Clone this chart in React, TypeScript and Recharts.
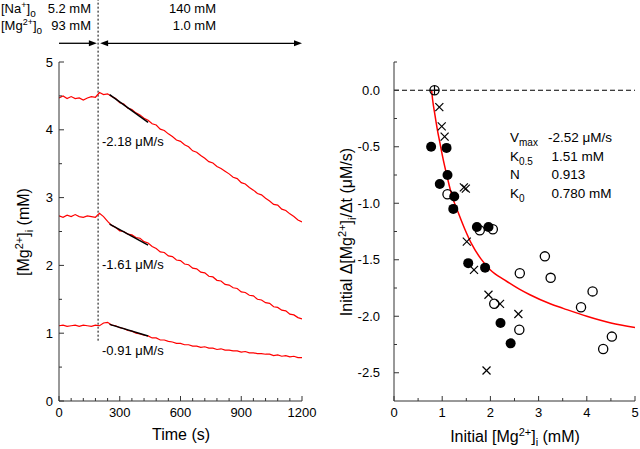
import React from 'react';
import { ComposedChart, Line, Scatter, XAxis, YAxis, ReferenceLine } from 'recharts';

const FONT = '"Liberation Sans", Arial, Helvetica, sans-serif';
const AX = '#333333';
const RED = '#ff0000';

// ---------- Left panel data: time course of [Mg2+]i ----------
const TIME = [0, 20, 40, 60, 80, 100, 120, 140, 160, 180, 200, 220, 240, 260, 280, 300, 320, 340, 360, 380, 400, 420, 440, 460, 480, 500, 520, 540, 560, 580, 600, 620, 640, 660, 680, 700, 720, 740, 760, 780, 800, 820, 840, 860, 880, 900, 920, 940, 960, 980, 1000, 1020, 1040, 1060, 1080, 1100, 1120, 1140, 1160, 1180, 1200];

const TRACE_HIGH = [4.47, 4.50, 4.46, 4.49, 4.46, 4.47, 4.44, 4.47, 4.49, 4.48, 4.55, 4.52, 4.53, 4.49, 4.46, 4.40, 4.38, 4.32, 4.30, 4.25, 4.22, 4.17, 4.14, 4.09, 4.07, 4.01, 3.99, 3.94, 3.90, 3.85, 3.83, 3.78, 3.75, 3.69, 3.67, 3.62, 3.58, 3.53, 3.51, 3.46, 3.43, 3.39, 3.35, 3.30, 3.28, 3.22, 3.20, 3.15, 3.11, 3.06, 3.04, 2.99, 2.95, 2.90, 2.89, 2.83, 2.81, 2.76, 2.72, 2.67, 2.64];

const TRACE_MID = [2.73, 2.71, 2.74, 2.72, 2.75, 2.72, 2.71, 2.73, 2.72, 2.71, 2.77, 2.72, 2.65, 2.59, 2.56, 2.51, 2.50, 2.46, 2.45, 2.41, 2.40, 2.35, 2.33, 2.28, 2.25, 2.20, 2.19, 2.14, 2.13, 2.08, 2.07, 2.02, 2.01, 1.96, 1.95, 1.90, 1.89, 1.84, 1.83, 1.78, 1.77, 1.72, 1.71, 1.67, 1.66, 1.61, 1.60, 1.56, 1.55, 1.50, 1.49, 1.45, 1.44, 1.39, 1.38, 1.34, 1.33, 1.28, 1.27, 1.23, 1.21];

const TRACE_LOW = [1.11, 1.12, 1.10, 1.11, 1.12, 1.10, 1.12, 1.11, 1.10, 1.12, 1.11, 1.15, 1.16, 1.12, 1.11, 1.08, 1.07, 1.04, 1.03, 1.00, 0.99, 0.97, 0.96, 0.93, 0.93, 0.90, 0.90, 0.88, 0.87, 0.85, 0.85, 0.83, 0.83, 0.81, 0.81, 0.79, 0.80, 0.78, 0.78, 0.76, 0.77, 0.75, 0.75, 0.74, 0.74, 0.72, 0.73, 0.71, 0.71, 0.70, 0.70, 0.69, 0.69, 0.67, 0.68, 0.66, 0.67, 0.65, 0.66, 0.64, 0.64];

const FIT_HIGH = [{ t: 250, v: 4.52 }, { t: 440, v: 4.11 }];
const FIT_MID = [{ t: 250, v: 2.61 }, { t: 440, v: 2.30 }];
const FIT_LOW = [{ t: 250, v: 1.13 }, { t: 440, v: 0.96 }];

const LEFT_X_TICKS = [0, 60, 120, 180, 240, 300, 360, 420, 480, 540, 600, 660, 720, 780, 840, 900, 960, 1020, 1080, 1140, 1200];
const LEFT_Y_TICKS = [0, 0.5, 1, 1.5, 2, 2.5, 3, 3.5, 4, 4.5, 5];

const SWITCH_TIME = 193;
const ARROW_LEVEL = 5.276;

// ---------- Right panel data: initial rate vs initial [Mg2+]i ----------
const FILLED = [
  { x: 0.77, y: -0.50 }, { x: 1.09, y: -0.51 }, { x: 1.11, y: -0.75 }, { x: 0.95, y: -0.83 },
  { x: 1.25, y: -0.94 }, { x: 1.23, y: -1.05 }, { x: 1.72, y: -1.21 }, { x: 1.96, y: -1.21 },
  { x: 1.54, y: -1.53 }, { x: 1.89, y: -1.57 }, { x: 2.21, y: -2.06 }, { x: 2.42, y: -2.24 },
];
const OPEN = [
  { x: 0.84, y: 0.0 }, { x: 1.11, y: -0.92 }, { x: 1.78, y: -1.24 }, { x: 2.05, y: -1.23 },
  { x: 2.08, y: -1.89 }, { x: 2.60, y: -2.12 }, { x: 2.61, y: -1.62 }, { x: 3.13, y: -1.47 },
  { x: 3.25, y: -1.66 }, { x: 3.88, y: -1.92 }, { x: 4.12, y: -1.78 }, { x: 4.34, y: -2.29 },
  { x: 4.52, y: -2.18 },
];
const CROSSES = [
  { x: 0.94, y: -0.15 }, { x: 0.99, y: -0.32 }, { x: 1.05, y: -0.41 }, { x: 1.45, y: -0.86 },
  { x: 1.49, y: -0.87 }, { x: 1.51, y: -1.34 }, { x: 1.66, y: -1.59 }, { x: 1.96, y: -1.81 },
  { x: 2.20, y: -1.89 }, { x: 2.58, y: -1.98 }, { x: 1.92, y: -2.48 },
];
const PLUS = [{ x: 0.84, y: 0.0 }];

const FIT_CURVE = [
  { x: 0.78, y: 0 }, { x: 0.80, y: -0.08 }, { x: 0.85, y: -0.22 }, { x: 0.90, y: -0.35 },
  { x: 0.95, y: -0.46 }, { x: 1.00, y: -0.57 }, { x: 1.05, y: -0.67 }, { x: 1.10, y: -0.76 },
  { x: 1.15, y: -0.85 }, { x: 1.20, y: -0.93 }, { x: 1.33, y: -1.08 }, { x: 1.47, y: -1.23 },
  { x: 1.61, y: -1.36 }, { x: 1.80, y: -1.49 }, { x: 2.00, y: -1.59 }, { x: 2.30, y: -1.68 },
  { x: 2.60, y: -1.76 }, { x: 2.82, y: -1.81 }, { x: 3.24, y: -1.89 }, { x: 3.51, y: -1.93 },
  { x: 4.00, y: -2.00 }, { x: 4.50, y: -2.06 }, { x: 5.00, y: -2.10 },
];

const RIGHT_X_TICKS = [0, 0.5, 1, 1.5, 2, 2.5, 3, 3.5, 4, 4.5, 5];
const RIGHT_Y_TICKS = [-2.5, -2.25, -2, -1.75, -1.5, -1.25, -1, -0.75, -0.5, -0.25, 0, 0.25];

// ---------- helpers ----------
const traceHigh = TIME.map((t, i) => ({ t, v: TRACE_HIGH[i] }));
const traceMid = TIME.map((t, i) => ({ t, v: TRACE_MID[i] }));
const traceLow = TIME.map((t, i) => ({ t, v: TRACE_LOW[i] }));

const near = (a: number, b: number) => Math.abs(a - b) < 1e-6;

const makeXTick = (isMajor: (v: number) => boolean, fmt: (v: number) => string) => (p: any) => {
  const { x, y, payload } = p;
  const v = payload.value;
  const major = isMajor(v);
  return (
    <g>
      <line x1={x} x2={x} y1={y} y2={y - (major ? 5 : 3)} stroke={AX} strokeWidth={1} />
      {major && (
        <text x={x} y={y + 16} textAnchor="middle" fontSize={13} fontFamily={FONT} fill="#000">
          {fmt(v)}
        </text>
      )}
    </g>
  );
};

const makeYTick = (isMajor: (v: number) => boolean, fmt: (v: number) => string, gap: number) => (p: any) => {
  const { x, y, payload } = p;
  const v = payload.value;
  const major = isMajor(v);
  return (
    <g>
      <line x1={x} x2={x + (major ? 5 : 3)} y1={y} y2={y} stroke={AX} strokeWidth={1} />
      {major && (
        <text x={x - gap} y={y + 4.6} textAnchor="end" fontSize={13} fontFamily={FONT} fill="#000">
          {fmt(v)}
        </text>
      )}
    </g>
  );
};

const arrowShape = (both: boolean) => (p: any) => {
  const { x1, y1, x2, y2 } = p;
  const L = 8;
  const W = 3;
  return (
    <g>
      <line x1={both ? x1 + L - 1 : x1} y1={y1} x2={x2 - L + 1} y2={y2} stroke="#000" strokeWidth={1.3} />
      <polygon points={`${x2},${y2} ${x2 - L},${y2 - W} ${x2 - L},${y2 + W}`} fill="#000" />
      {both && <polygon points={`${x1},${y1} ${x1 + L},${y1 - W} ${x1 + L},${y1 + W}`} fill="#000" />}
    </g>
  );
};

const filledDot = (p: any) => <circle cx={p.cx} cy={p.cy} r={5} fill="#000" />;
const openDot = (p: any) => <circle cx={p.cx} cy={p.cy} r={4.6} fill="none" stroke="#000" strokeWidth={1.3} />;
const crossDot = (p: any) => (
  <g stroke="#000" strokeWidth={1.2}>
    <line x1={p.cx - 4} y1={p.cy - 4} x2={p.cx + 4} y2={p.cy + 4} />
    <line x1={p.cx - 4} y1={p.cy + 4} x2={p.cx + 4} y2={p.cy - 4} />
  </g>
);
const plusDot = (p: any) => (
  <g stroke="#000" strokeWidth={1.2}>
    <line x1={p.cx - 4.6} y1={p.cy} x2={p.cx + 4.6} y2={p.cy} />
    <line x1={p.cx} y1={p.cy - 4.6} x2={p.cx} y2={p.cy + 4.6} />
  </g>
);

function LeftChart() {
  return (
    <ComposedChart width={320} height={449} margin={{ top: 62, left: 58, right: 18, bottom: 47 }}>
      <XAxis
        type="number"
        dataKey="t"
        domain={[0, 1200]}
        ticks={LEFT_X_TICKS}
        interval={0}
        height={1}
        tickSize={0}
        tickMargin={0}
        tickLine={false}
        axisLine={{ stroke: AX }}
        allowDataOverflow
        tick={makeXTick((v) => v % 300 === 0, (v) => String(v))}
      />
      <YAxis
        type="number"
        dataKey="v"
        domain={[0, 5]}
        ticks={LEFT_Y_TICKS}
        interval={0}
        width={1}
        tickSize={0}
        tickMargin={0}
        tickLine={false}
        axisLine={{ stroke: AX }}
        allowDataOverflow
        tick={makeYTick((v) => near(v, Math.round(v)), (v) => String(v), 6)}
      />
      <ReferenceLine
        segment={[{ x: SWITCH_TIME, y: 0.89 }, { x: SWITCH_TIME, y: 5.93 }]}
        ifOverflow="visible"
        stroke="#000"
        strokeWidth={1}
        strokeDasharray="2 2"
      />
      <ReferenceLine
        segment={[{ x: 0, y: ARROW_LEVEL }, { x: 187, y: ARROW_LEVEL }]}
        ifOverflow="visible"
        shape={arrowShape(false)}
      />
      <ReferenceLine
        segment={[{ x: 203, y: ARROW_LEVEL }, { x: 1200, y: ARROW_LEVEL }]}
        ifOverflow="visible"
        shape={arrowShape(true)}
      />
      <Line data={traceHigh} dataKey="v" type="linear" stroke={RED} strokeWidth={1.2} dot={false} isAnimationActive={false} />
      <Line data={traceMid} dataKey="v" type="linear" stroke={RED} strokeWidth={1.2} dot={false} isAnimationActive={false} />
      <Line data={traceLow} dataKey="v" type="linear" stroke={RED} strokeWidth={1.2} dot={false} isAnimationActive={false} />
      <Line data={FIT_HIGH} dataKey="v" type="linear" stroke="#000" strokeWidth={1.5} dot={false} isAnimationActive={false} />
      <Line data={FIT_MID} dataKey="v" type="linear" stroke="#000" strokeWidth={1.5} dot={false} isAnimationActive={false} />
      <Line data={FIT_LOW} dataKey="v" type="linear" stroke="#000" strokeWidth={1.5} dot={false} isAnimationActive={false} />
    </ComposedChart>
  );
}

function RightChart() {
  return (
    <ComposedChart width={320} height={449} margin={{ top: 62, left: 73, right: 5, bottom: 47 }}>
      <XAxis
        type="number"
        dataKey="x"
        domain={[0, 5]}
        ticks={RIGHT_X_TICKS}
        interval={0}
        height={1}
        tickSize={0}
        tickMargin={0}
        tickLine={false}
        axisLine={{ stroke: AX }}
        allowDataOverflow
        tick={makeXTick((v) => near(v, Math.round(v)), (v) => String(v))}
      />
      <YAxis
        type="number"
        dataKey="y"
        domain={[-2.75, 0.25]}
        ticks={RIGHT_Y_TICKS}
        interval={0}
        width={1}
        tickSize={0}
        tickMargin={0}
        tickLine={false}
        axisLine={{ stroke: AX }}
        allowDataOverflow
        tick={makeYTick((v) => near(v * 2, Math.round(v * 2)), (v) => v.toFixed(1), 14)}
      />
      <ReferenceLine
        segment={[{ x: 0, y: 0 }, { x: 5, y: 0 }]}
        stroke="#000"
        strokeWidth={1}
        strokeDasharray="5 3"
      />
      <Line data={FIT_CURVE} dataKey="y" type="monotone" stroke={RED} strokeWidth={1.5} dot={false} isAnimationActive={false} />
      <Scatter data={OPEN} shape={openDot} isAnimationActive={false} />
      <Scatter data={CROSSES} shape={crossDot} isAnimationActive={false} />
      <Scatter data={PLUS} shape={plusDot} isAnimationActive={false} />
      <Scatter data={FILLED} shape={filledDot} isAnimationActive={false} />
    </ComposedChart>
  );
}

function Overlay() {
  const t = { fontFamily: FONT, fill: '#000' } as const;
  return (
    <svg width={640} height={449} style={{ position: 'absolute', left: 0, top: 0, pointerEvents: 'none' }}>
      {/* top annotations */}
      <text x={1} y={13} fontSize={13} {...t}>
        [Na<tspan dy={-5} fontSize={9}>+</tspan><tspan dy={5}>]</tspan><tspan dy={4} fontSize={10}>o</tspan>
      </text>
      <text x={91} y={13} fontSize={13} textAnchor="end" {...t}>5.2 mM</text>
      <text x={1} y={30} fontSize={13} {...t}>
        [Mg<tspan dy={-5} fontSize={9}>2+</tspan><tspan dy={5}>]</tspan><tspan dy={4} fontSize={10}>o</tspan>
      </text>
      <text x={91} y={30} fontSize={13} textAnchor="end" {...t}>93 mM</text>
      <text x={216} y={13} fontSize={13} textAnchor="end" {...t}>140 mM</text>
      <text x={216} y={30} fontSize={13} textAnchor="end" {...t}>1.0 mM</text>

      {/* slope labels */}
      <text x={102} y={146} fontSize={13} {...t}>-2.18 μM/s</text>
      <text x={102} y={269} fontSize={13} {...t}>-1.61 μM/s</text>
      <text x={102} y={355} fontSize={13} {...t}>-0.91 μM/s</text>

      {/* axis titles, left */}
      <text x={181} y={440} fontSize={16} textAnchor="middle" {...t}>Time (s)</text>
      <text transform="translate(29,232) rotate(-90)" fontSize={16} textAnchor="middle" {...t}>
        [Mg<tspan dy={-6} fontSize={11}>2+</tspan><tspan dy={6}>]</tspan><tspan dy={4} fontSize={11}>i</tspan><tspan dy={-4}> (mM)</tspan>
      </text>

      {/* axis titles, right */}
      <text x={515} y={442} fontSize={16} textAnchor="middle" {...t}>
        Initial [Mg<tspan dy={-6} fontSize={11}>2+</tspan><tspan dy={6}>]</tspan><tspan dy={4} fontSize={11}>i</tspan><tspan dy={-4}> (mM)</tspan>
      </text>
      <text transform="translate(352,232) rotate(-90)" fontSize={16} textAnchor="middle" {...t}>
        Initial Δ[Mg<tspan dy={-6} fontSize={11}>2+</tspan><tspan dy={6}>]</tspan><tspan dy={4} fontSize={11}>i</tspan><tspan dy={-4}>/Δt (μM/s)</tspan>
      </text>

      {/* fit parameters */}
      <text x={510} y={142} fontSize={13.5} {...t}>
        V<tspan dy={4} fontSize={10}>max</tspan>
      </text>
      <text x={548} y={142} fontSize={13.5} {...t}>-2.52 μM/s</text>
      <text x={510} y={160.5} fontSize={13.5} {...t}>
        K<tspan dy={4} fontSize={10}>0.5</tspan>
      </text>
      <text x={551.5} y={160.5} fontSize={13.5} {...t}>1.51 mM</text>
      <text x={510} y={179} fontSize={13.5} {...t}>N</text>
      <text x={551.5} y={179} fontSize={13.5} {...t}>0.913</text>
      <text x={510} y={197.5} fontSize={13.5} {...t}>
        K<tspan dy={4} fontSize={10}>0</tspan>
      </text>
      <text x={551.5} y={197.5} fontSize={13.5} {...t}>0.780 mM</text>
    </svg>
  );
}

export default function App() {
  return (
    <div style={{ position: 'absolute', left: 0, top: 0, width: 640, height: 449, background: '#fff' }}>
      <div style={{ position: 'absolute', left: 0, top: 0 }}>
        <LeftChart />
      </div>
      <div style={{ position: 'absolute', left: 320, top: 0 }}>
        <RightChart />
      </div>
      <Overlay />
    </div>
  );
}
